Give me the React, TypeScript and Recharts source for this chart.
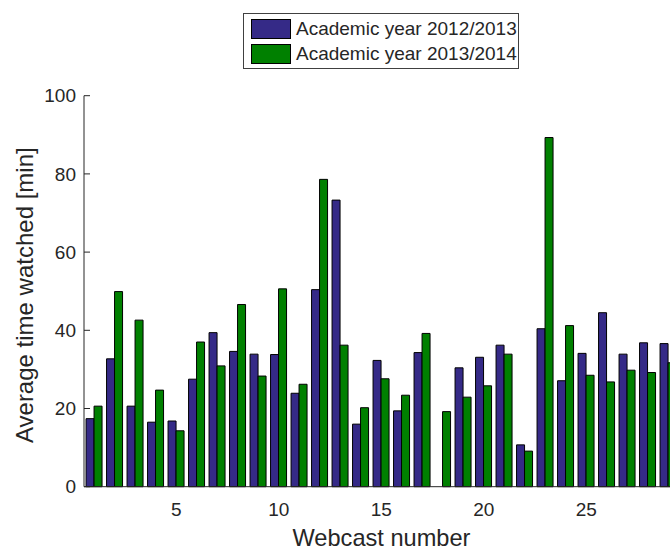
import React from 'react';
import { BarChart, Bar, XAxis, YAxis, Legend } from 'recharts';

const webcasts = [1, 2, 3, 4, 5, 6, 7, 8, 9, 10, 11, 12, 13, 14, 15, 16, 17, 18, 19, 20, 21, 22, 23, 24, 25, 26, 27, 28, 29];
const year2012 = [17.4, 32.7, 20.6, 16.5, 16.8, 27.5, 39.4, 34.6, 33.9, 33.8, 23.9, 50.4, 73.3, 16.0, 32.3, 19.4, 34.3, null, 30.4, 33.1, 36.2, 10.7, 40.4, 27.1, 34.1, 44.5, 33.9, 36.8, 36.6];
const year2013 = [20.6, 49.9, 42.6, 24.7, 14.3, 37.0, 30.9, 46.6, 28.3, 50.6, 26.2, 78.6, 36.2, 20.2, 27.6, 23.4, 39.2, 19.2, 22.9, 25.8, 33.9, 9.1, 89.3, 41.2, 28.5, 26.8, 29.8, 29.2, 31.7];
const yTicks = [0, 20, 40, 60, 80, 100];
const xTickLabels = [5, 10, 15, 20, 25];
const seriesNames = ['Academic year 2012/2013', 'Academic year 2013/2014'];
const seriesColors = ['#352a87', '#008000'];

const data = webcasts.map((w, i) => ({ webcast: w, a: year2012[i], b: year2013[i] }));

const FONT = '"Liberation Sans", Arial, sans-serif';
const TEXT = '#262626';

const YTick = (props: any) => {
  const { x, y, payload } = props;
  return (
    <g>
      <line x1={x} y1={y} x2={x + 6} y2={y} stroke={TEXT} strokeWidth={1} />
      <text x={x - 8} y={y} dy="0.355em" textAnchor="end" fontFamily={FONT} fontSize={19} fill={TEXT}>
        {payload.value}
      </text>
    </g>
  );
};

const XTick = (props: any) => {
  const { x, y, payload } = props;
  if (!xTickLabels.includes(Number(payload.value))) return <g />;
  return (
    <text x={x} y={y + 23} dy="0.355em" textAnchor="middle" fontFamily={FONT} fontSize={19} fill={TEXT}>
      {payload.value}
    </text>
  );
};

const renderLegend = () => (
  <div
    style={{
      border: '1px solid #404040',
      background: '#fff',
      width: 276,
      height: 56,
      boxSizing: 'border-box',
      padding: '2px 0 0 7px',
      fontFamily: FONT,
      fontSize: 19,
      color: TEXT,
    }}
  >
    {seriesNames.map((n, i) => (
      <div key={n} style={{ display: 'flex', alignItems: 'center', height: 25.5, whiteSpace: 'nowrap' }}>
        <span
          style={{
            display: 'inline-block',
            width: 40,
            height: 20,
            background: seriesColors[i],
            border: '1px solid #000',
            boxSizing: 'border-box',
            marginRight: 5,
          }}
        />
        <span>{n}</span>
      </div>
    ))}
  </div>
);

export default function App() {
  return (
    <div style={{ position: 'fixed', left: 0, top: 0, width: 670, height: 549, overflow: 'hidden', background: '#fff' }}>
      <BarChart
        width={700}
        height={549}
        data={data}
        margin={{ top: 39.7, right: 21.5, bottom: 22.3, left: 0 }}
        barCategoryGap="10%"
        barGap={0}
      >
        <XAxis
          dataKey="webcast"
          type="category"
          interval={0}
          tickLine={false}
          tickSize={0}
          tickMargin={0}
          height={40}
          axisLine={{ stroke: TEXT, strokeWidth: 1 }}
          tick={<XTick />}
          label={(p: any) => {
            const vb = p.viewBox;
            return (
              <text x={381.5} y={vb.y + 59} textAnchor="middle" fontFamily={FONT} fontSize={23.6} fill={TEXT}>
                Webcast number
              </text>
            );
          }}
        />
        <YAxis
          type="number"
          domain={[0, 100]}
          ticks={yTicks}
          width={84}
          tickLine={false}
          tickSize={0}
          tickMargin={0}
          axisLine={{ stroke: TEXT, strokeWidth: 1 }}
          tick={<YTick />}
          label={(p: any) => {
            const vb = p.viewBox;
            const cx = vb.x + 24;
            const cy = vb.y + vb.height / 2 + 4;
            return (
              <text
                x={cx}
                y={cy}
                dy="0.355em"
                textAnchor="middle"
                transform={`rotate(-90, ${cx}, ${cy})`}
                fontFamily={FONT}
                fontSize={24}
                fill={TEXT}
              >
                Average time watched [min]
              </text>
            );
          }}
        />
        <Legend
          verticalAlign="top"
          content={renderLegend}
          wrapperStyle={{ position: 'absolute', top: 13, left: 243, width: 276, height: 56 }}
        />
        <Bar dataKey="a" name={seriesNames[0]} fill={seriesColors[0]} stroke="#000" strokeWidth={1} isAnimationActive={false} />
        <Bar dataKey="b" name={seriesNames[1]} fill={seriesColors[1]} stroke="#000" strokeWidth={1} isAnimationActive={false} />
      </BarChart>
    </div>
  );
}
